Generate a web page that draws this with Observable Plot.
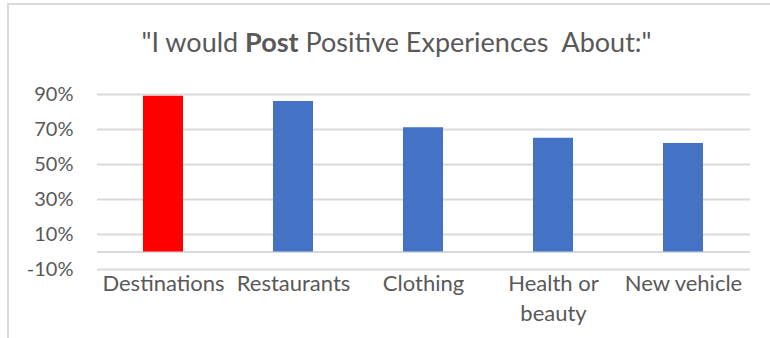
<!DOCTYPE html>
<html>
<head>
<meta charset="utf-8">
<script src="https://cdn.jsdelivr.net/npm/d3@7"></script>
<script src="https://cdn.jsdelivr.net/npm/@observablehq/plot@0.6"></script>
<style>
  body { margin: 0; background: #fff; }
  #wrap { position: relative; width: 770px; height: 338px; overflow: hidden; background: #fff; font-family: Lato, "Open Sans", sans-serif; }
  #btop { position: absolute; left: 7px; top: 3px; width: 763px; height: 2px; background: #d9d9d9; }
  #bleft { position: absolute; left: 7px; top: 3px; width: 2px; height: 335px; background: #d9d9d9; }
  #title { position: absolute; left: 0; width: 793px; top: 28px; line-height: 27px; text-align: center; font-size: 27px; color: #595959; white-space: pre; }
  #chart { position: absolute; left: 0; top: 60px; }
</style>
</head>
<body>
<div id="wrap">
  <div id="btop"></div>
  <div id="bleft"></div>
  <div id="title">"I would <b>Post</b> Positive Experiences  About:"</div>
  <div id="chart"></div>
</div>
<script>
const categories = ["Destinations", "Restaurants", "Clothing", "Health or\nbeauty", "New vehicle"];
const values = [89, 86, 71, 65, 62];
const yTicks = [-10, 10, 30, 50, 70, 90];
const highlight = "Destinations";

const data = categories.map((c, i) => ({category: c, value: values[i]}));

const plot = Plot.plot({
  width: 770,
  height: 278,
  marginTop: 34,
  marginBottom: 69,
  marginLeft: 97,
  marginRight: 20,
  style: {fontFamily: "Lato, 'Open Sans', sans-serif", color: "#595959", background: "transparent"},
  x: {domain: categories, paddingInner: 0.69, paddingOuter: 0.345, label: null},
  y: {domain: [-10, 90], label: null},
  marks: [
    Plot.ruleY(yTicks, {stroke: "#d9d9d9", strokeWidth: 2}),
    Plot.ruleY([0], {stroke: "#d9d9d9", strokeWidth: 2}),
    Plot.barY(data, {x: "category", y1: 0, y2: "value", fill: d => d.category === highlight ? "#ff0000" : "#4472c4"}),
    Plot.axisY({ticks: yTicks, tickFormat: d => d + "%", tickSize: 0, tickPadding: 24, fontSize: 20, fill: "#595959"}),
    Plot.axisX({tickSize: 0, tickPadding: 0, fontSize: 22, fill: "#595959", lineHeight: 1.36})
  ]
});
document.getElementById("chart").appendChild(plot);
</script>
</body>
</html>
